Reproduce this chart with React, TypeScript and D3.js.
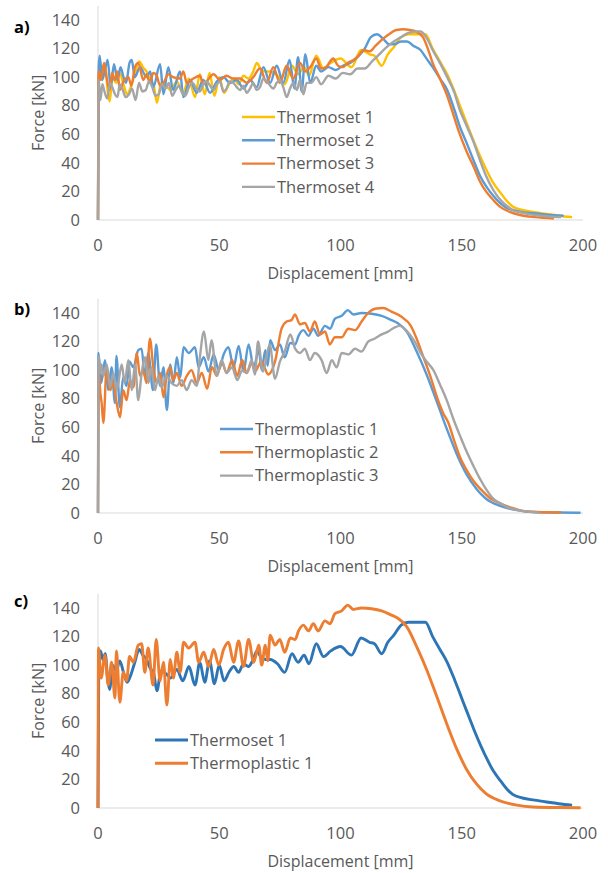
import React, { useEffect, useRef } from "react";
import * as d3 from "d3";

type Pt = [number, number];

const xTicks = [0, 50, 100, 150, 200];
const yTicks = [0, 20, 40, 60, 80, 100, 120, 140];

// displacement [mm], force [kN]
const thermoset1: Pt[] = [[0,0],[0.3,96],[1,110],[2,104],[3,108],[4,90],[4.8,83],[6,100],[7.5,96],[9,103],[10.5,95],[12,88],[13.5,93],[15,101],[17,111],[18.5,107],[20,104],[21.5,98],[23,94],[24.3,82],[26,96],[28,94],[30,91],[32.5,97],[35,89],[37.5,99],[40,86],[42,102],[44,88],[46,103],[48,87],[50,100],[52,89],[54,95],[56,99],[58,95],[60,101],[62,99],[64,104],[65.5,110],[67,106],[69,104],[71,104],[74,101],[77,95],[80,108],[82.5,102],[85,107],[87,101],[90,115],[93,106],[96,110],[100,113],[104.5,107],[108.5,119],[112,116],[114,115],[117,108],[119.5,116],[122,121],[125,128],[128,130],[131,130],[135,130],[138,120],[141,111],[144,102],[147,90],[149.5,79],[152,68],[155,55],[158,43],[160.5,34],[163,26],[166,19],[168.5,13.5],[171,9.5],[175,7],[180,5.5],[185,4.2],[190,3],[195.5,2]];

const thermoset2: Pt[] = [[0,0],[0.3,108],[0.7,115],[1.7,98],[3.1,107],[4,112],[5.2,93],[6.6,109],[8,98],[9.3,107],[10.5,100],[11.6,96],[13,110],[13.9,112],[15.2,100],[17.3,107],[20,100],[21.5,104],[22.8,93],[25.6,109],[27,88],[29,107],[31,91],[33.8,104],[35.2,86],[38,98],[40.7,89],[43.4,98],[46.2,89],[49,97],[51.7,100],[54.4,96],[57.2,98],[60,92],[62.7,98],[65.4,93],[68.2,107],[71,96],[73.7,108],[76.4,96],[79,112],[81,92],[82.5,114],[84,90],[85.5,116],[87.5,96],[90,108],[92,104],[95,107],[98,105],[101,108],[104,110],[107,114],[110,120],[112.5,128],[115,130],[117.5,127],[120,123],[122,123],[125,125],[127.5,125],[130,122],[133,119],[135.5,113],[138,107],[141,99],[144,91],[147,77],[149.3,65],[152,54],[154.8,42],[157.5,31],[160.3,23],[163,17],[165.8,12],[168,9],[171,7],[175,5.5],[179.5,4.7],[185,3.8],[192,3]];

const thermoset3: Pt[] = [[0,0],[0.3,104],[1.2,98],[2.5,110],[3.5,100],[4.8,91],[5.8,103],[6.9,98],[8,104],[9,91],[10.5,97],[12.5,100],[13.8,94],[15.2,107],[16.6,110],[18.7,98],[20,102],[21.4,96],[22.8,103],[24.2,101],[25.6,94],[27,96],[29,102],[31,100],[33.8,99],[35.2,104],[36.6,96],[39.3,99],[42,101],[43.5,95],[44.8,97],[47.6,102],[50.3,98],[53,101],[55.8,99],[58.6,99],[61.3,96],[64,100],[66.8,106],[69.6,96],[72.3,107],[75,96],[77.8,108],[80.5,99],[83.3,110],[85.5,104],[87.5,107],[90,113],[92,106],[94,107],[97,113],[99,108],[101,107],[103,110],[105.4,112],[107.5,115],[109.5,119],[112,118],[114.5,122],[117.6,127],[120,130],[123,133],[126,133.5],[128.6,133],[131,132],[134,128],[136,120],[138,110],[141,99],[144,87],[146.5,74],[149,61],[152,48],[155,37],[157.5,27],[160,20],[163,14],[166,9],[170,5.5],[174,3.5],[180,2],[188,1]];

const thermoset4: Pt[] = [[0,0],[0.3,98],[1,84],[1.8,95],[2.5,91],[3.8,85],[5,96],[5.9,93],[7,88],[8,86],[9,95],[10,92],[11.4,86],[12.8,88],[14,92],[15.5,84],[16.9,96],[18.3,90],[19.7,91],[21,97],[22.4,93],[23.7,87],[25,88],[26.5,95],[27.8,92],[29.2,96],[30.6,87],[32,91],[33.4,94],[34.7,89],[36,87],[37.5,93],[39,96],[40.5,92],[42,90],[43.4,95],[44.8,97],[46.2,94],[47.6,91],[49,95],[50.3,97],[51.7,90],[53,92],[54.4,97],[55.8,96],[57.2,93],[58.6,91],[60,94],[61.3,89],[62.7,92],[64,96],[65.4,91],[66.8,93],[68.2,99],[69.6,97],[71,94],[72.3,92],[73.7,96],[75,98],[76.4,93],[77.8,86],[79.2,92],[80.5,96],[82,91],[83.3,98],[84.7,88],[86,96],[88,96],[90,100],[92,95],[95,101],[98,99],[101,103],[104,102],[107,106],[110,106],[113,111],[116,116],[119,121],[122,125],[125,128],[128,131],[131,132],[133,132],[136,126],[138,119],[141,110],[144,100],[147,89],[149,78],[152,66],[155,54],[157.5,42],[160,31],[163,21],[166,14],[168.5,10],[171,7],[175,5],[180,3.5],[186,2.5],[191,2]];

const thermoplastic1: Pt[] = [[0,0],[0.2,112],[1.3,91],[2.9,107],[4.2,86],[5.6,102],[7,77],[7.6,110],[9,74],[10.4,95],[11.8,89],[13,106],[14.6,102],[16.6,114],[18,115],[19.3,95],[20.7,112],[22.7,86],[24,118],[25.6,89],[27,102],[28.4,72],[29.8,104],[31.1,91],[32.5,109],[33.9,95],[35.3,116],[37.4,112],[40,116],[41.5,102],[43.6,109],[45.6,99],[47.7,111],[49.8,100],[51.8,111],[53.8,116],[55.9,102],[58,117],[60,99],[62.1,118],[64.2,102],[66.3,114],[67.5,100],[69,114],[70,103],[71,121],[73,114],[75,118],[77,109],[79.3,119],[81.3,118],[82.7,124],[84.7,128],[86.8,124],[88.8,129],[90.8,124],[93.6,131],[95.7,129],[97.7,136],[100.5,138],[103,142],[105.3,139],[108.7,140],[112.8,139.5],[117,138],[121,135],[123.5,133],[127.3,127],[131.4,113],[135.5,97],[139.7,78],[143.8,59],[148,41],[152,27],[156,17],[160,10],[165.8,5],[172.7,2],[179.5,0.7],[190,0.3],[199,0.2]];

const thermoplastic2: Pt[] = [[0,0],[0.4,105],[0.8,88],[1.5,77],[2.2,63],[3.6,102],[5,86],[6.3,91],[7.7,77],[9.1,67],[10.4,86],[11.8,79],[13.2,93],[14.6,88],[16,112],[17.3,96],[18.7,100],[20,91],[21.4,122],[22.8,102],[24.2,91],[25.6,98],[27,81],[28.3,96],[29.7,102],[31,93],[32.5,98],[34.5,89],[36.6,96],[38.6,100],[40.7,91],[42.8,98],[45,87],[47,102],[49,96],[51,106],[53,98],[55.3,107],[57.4,96],[59.5,107],[61.3,98],[63.4,105],[64.7,99],[67.4,106],[70.2,97],[73,106],[75.7,129],[77.8,134],[79.8,135],[81.2,139],[83.3,132],[85.3,133],[87.4,127],[89.4,134],[91.5,125],[93.6,127],[95.6,118],[97.7,123],[100.5,123],[103.2,129],[106,128],[108.7,134],[111.4,140],[114.2,143],[117.6,143.5],[121,141],[125,137.5],[129,131],[131.4,122],[134,110],[137,96],[140,80],[142.3,70],[144.5,63],[147,50],[149.3,39],[152,30],[155,22],[158.2,16],[162,10],[165.8,6.8],[170,4],[176.8,1],[185,0.5],[191,0.3]];

const thermoplastic3: Pt[] = [[0,0],[0.3,110],[0.8,98],[1.5,104],[2.2,96],[3.6,104],[5,88],[6.3,98],[7.7,86],[9.8,104],[11,91],[12.5,107],[13.9,86],[15.3,104],[16.6,79],[18,98],[19.4,109],[20.8,91],[22,102],[23.5,86],[24.9,96],[26.2,88],[28.3,96],[30.3,91],[32.5,89],[34.5,93],[36.6,86],[38.6,93],[40.7,89],[42,109],[43.7,127],[45.5,107],[46.8,121],[49,96],[51,107],[53,98],[55.3,102],[57.4,93],[59.5,100],[61.3,98],[63.4,107],[64.7,97],[66,120],[68,99],[70.8,118],[73,94],[75,106],[77,113],[79.3,125],[81.3,115],[83.3,112],[85.3,115],[87.4,107],[89.4,112],[92.2,107],[94.3,98],[96.4,107],[98.4,102],[100.5,112],[103.3,111],[106,115],[108.7,113],[111.4,120],[114,122],[117,125],[119.6,127],[122.4,130],[124.5,131],[127,128],[130.6,120],[133.4,111],[135.5,106],[138.3,100],[141,90],[143.8,79],[146.5,66],[149.3,54],[152,43],[154.8,33],[157.5,24],[160.3,16],[163,10],[165.8,6.8],[169,4],[172.7,2.2],[177,1],[182,0.3]];

const panels = [
  {
    label: "a)", labelY: 27, y0: 220, legendX: 242, legendY: 117, lw: 2.4,
    series: [
      { name: "Thermoset 1", color: "#FFC000", data: thermoset1 },
      { name: "Thermoset 2", color: "#5B9BD5", data: thermoset2 },
      { name: "Thermoset 3", color: "#ED7D31", data: thermoset3 },
      { name: "Thermoset 4", color: "#A5A5A5", data: thermoset4 },
    ],
  },
  {
    label: "b)", labelY: 309, y0: 513, legendX: 220, legendY: 429, lw: 2.4,
    series: [
      { name: "Thermoplastic 1", color: "#5B9BD5", data: thermoplastic1 },
      { name: "Thermoplastic 2", color: "#ED7D31", data: thermoplastic2 },
      { name: "Thermoplastic 3", color: "#A5A5A5", data: thermoplastic3 },
    ],
  },
  {
    label: "c)", labelY: 601, y0: 808, legendX: 155, legendY: 740, lw: 2.9,
    series: [
      { name: "Thermoset 1", color: "#2E75B6", data: thermoset1 },
      { name: "Thermoplastic 1", color: "#ED7D31", data: thermoplastic1 },
    ],
  },
];

const FONT = "'Open Sans', sans-serif";
const TXT = "#595959";

export default function App() {
  const ref = useRef<SVGSVGElement>(null);

  useEffect(() => {
    const svg = d3.select(ref.current);
    svg.selectAll("*").remove();
    svg.append("rect").attr("width", 608).attr("height", 873).attr("fill", "#fff");

    panels.forEach((p) => {
      const x = d3.scaleLinear().domain([0, 200]).range([98, 583]);
      const y = d3.scaleLinear().domain([0, 140]).range([p.y0, p.y0 - 200]);
      const g = svg.append("g");

      // axes
      g.append("line")
        .attr("x1", x(0)).attr("x2", x(0))
        .attr("y1", y(150)).attr("y2", y(0))
        .attr("stroke", "#D9D9D9").attr("stroke-width", 1);
      g.append("line")
        .attr("x1", x(0)).attr("x2", x(200))
        .attr("y1", y(0)).attr("y2", y(0))
        .attr("stroke", "#D9D9D9").attr("stroke-width", 1);

      g.selectAll(".yt")
        .data(yTicks)
        .enter()
        .append("text")
        .attr("x", 80)
        .attr("y", (d) => y(d))
        .attr("dy", "0.35em")
        .attr("text-anchor", "end")
        .attr("font-family", FONT)
        .attr("font-size", 16.5)
        .attr("fill", TXT)
        .text((d) => d);

      g.selectAll(".xt")
        .data(xTicks)
        .enter()
        .append("text")
        .attr("x", (d) => x(d))
        .attr("y", p.y0 + 25)
        .attr("dy", "0.35em")
        .attr("text-anchor", "middle")
        .attr("font-family", FONT)
        .attr("font-size", 16.5)
        .attr("fill", TXT)
        .text((d) => d);

      // axis titles
      g.append("text")
        .attr("x", x(100))
        .attr("y", p.y0 + 53)
        .attr("dy", "0.35em")
        .attr("text-anchor", "middle")
        .attr("font-family", FONT)
        .attr("font-size", 16)
        .attr("fill", TXT)
        .text("Displacement [mm]");

      g.append("text")
        .attr("transform", `translate(38,${(y(0) + y(150)) / 2}) rotate(-90)`)
        .attr("dy", "0.35em")
        .attr("text-anchor", "middle")
        .attr("font-family", FONT)
        .attr("font-size", 16)
        .attr("fill", TXT)
        .text("Force [kN]");

      g.append("text")
        .attr("x", 14)
        .attr("y", p.labelY)
        .attr("dy", "0.35em")
        .attr("font-family", FONT)
        .attr("font-weight", "bold")
        .attr("font-size", 16.5)
        .attr("fill", "#000")
        .text(p.label);

      // series
      const line = d3.line<Pt>()
        .x((d) => x(d[0]))
        .y((d) => y(d[1]))
        .curve(d3.curveMonotoneX);

      p.series.forEach((s) => {
        g.append("path")
          .attr("d", line(s.data))
          .attr("fill", "none")
          .attr("stroke", s.color)
          .attr("stroke-width", p.lw)
          .attr("stroke-linejoin", "round");
      });

      // legend
      p.series.forEach((s, i) => {
        const ly = p.legendY + i * 23.3;
        g.append("line")
          .attr("x1", p.legendX).attr("x2", p.legendX + 33)
          .attr("y1", ly).attr("y2", ly)
          .attr("stroke", s.color)
          .attr("stroke-width", p.lw);
        g.append("text")
          .attr("x", p.legendX + 35)
          .attr("y", ly)
          .attr("dy", "0.35em")
          .attr("font-family", FONT)
          .attr("font-size", 16.5)
          .attr("fill", TXT)
          .text(s.name);
      });
    });
  }, []);

  return (
    <svg
      ref={ref}
      width={608}
      height={873}
      style={{ position: "absolute", left: 0, top: 0, display: "block" }}
    />
  );
}
